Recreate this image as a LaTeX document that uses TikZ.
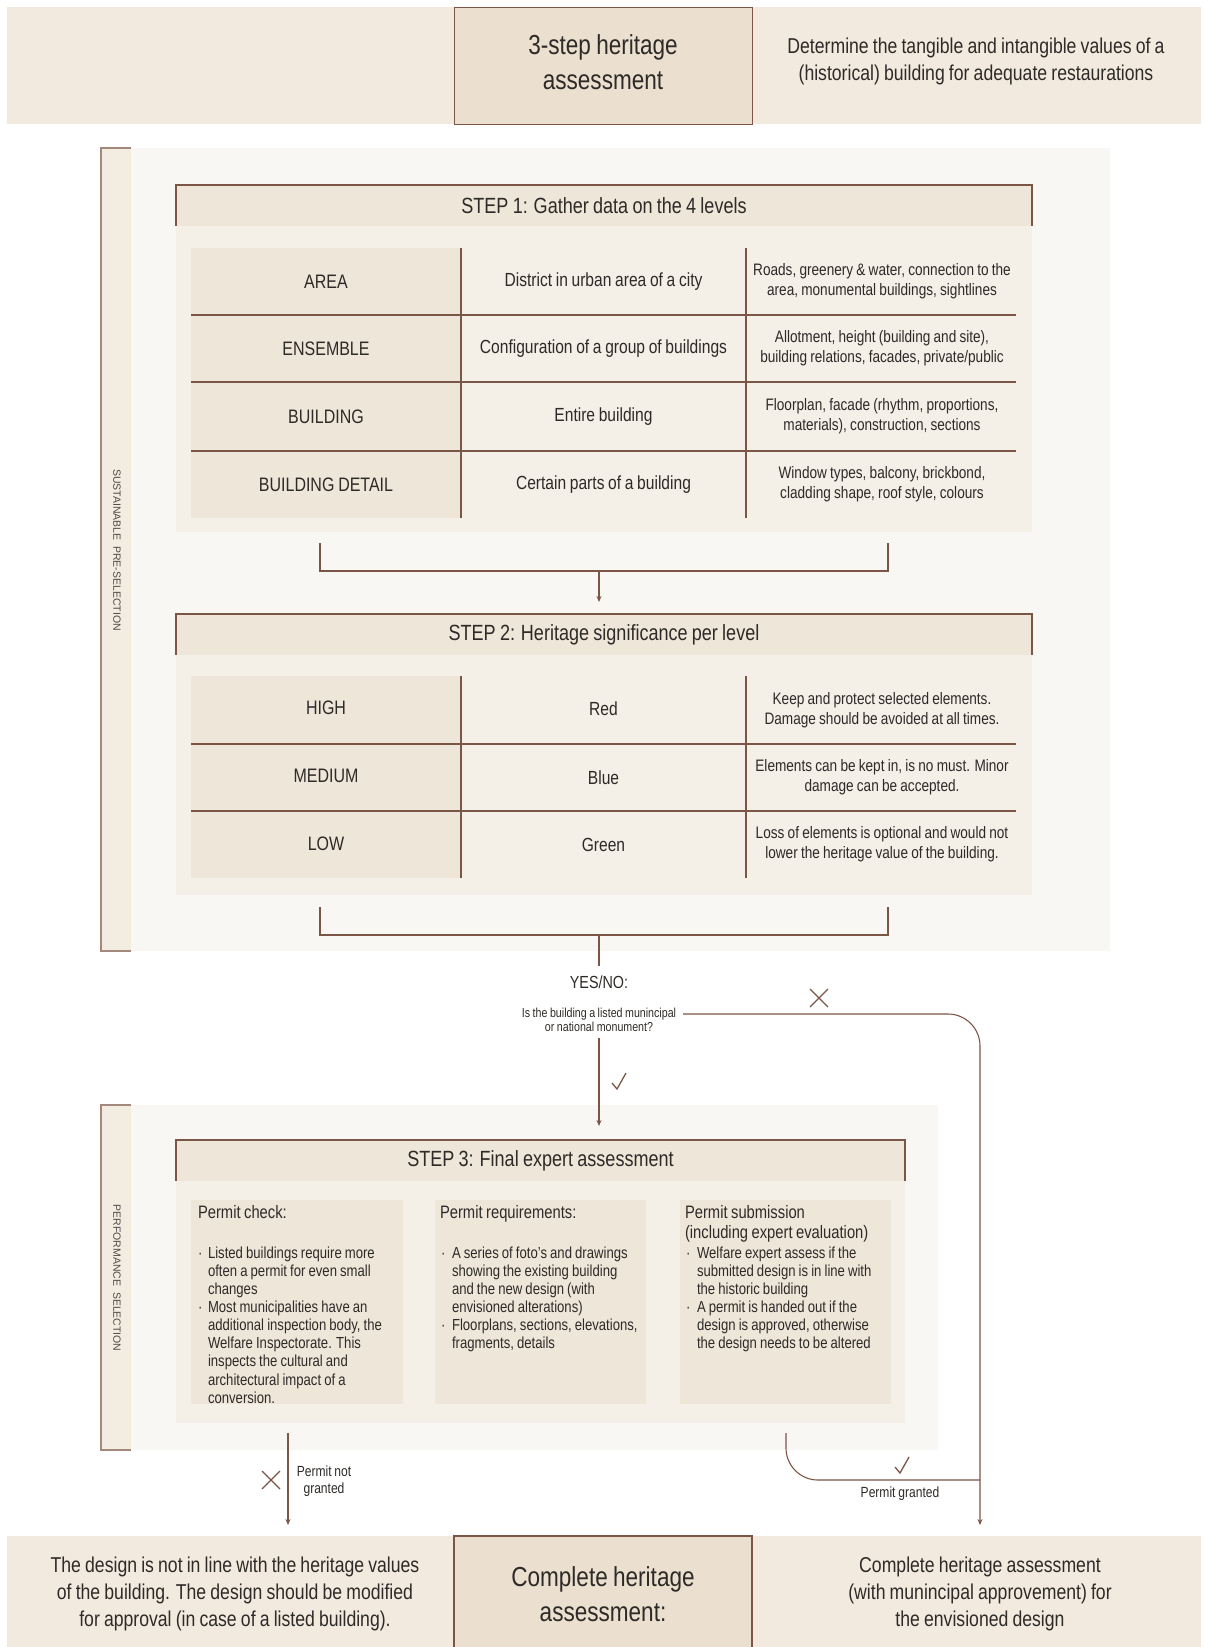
\documentclass[tikz,border=0pt]{standalone}
\usepackage{fontspec}
\setmainfont{Liberation Sans}[FakeStretch=0.82, WordSpace=0.85]
\newfontfamily\capsfont{Liberation Sans}
\usetikzlibrary{arrows.meta,calc}

\definecolor{band}{HTML}{F2EADF}
\definecolor{titlefill}{HTML}{EBE0CF}
\definecolor{panel}{HTML}{F9F7F3}
\definecolor{strip}{HTML}{F3ECE1}
\definecolor{hdrfill}{HTML}{EFE6DA}
\definecolor{bodyfill}{HTML}{F4EFE7}
\definecolor{cellfill}{HTML}{EFE6DA}
\definecolor{rule}{HTML}{7B5545}
\definecolor{ink}{HTML}{2E2A27}

\newcommand{\drawtick}[2]{\draw[glyph] (#1-7,#2+1) -- (#1-2,#2+7) -- (#1+7,#2-9);}
\newcommand{\drawcross}[2]{\draw[glyph] (#1-9,#2-9) -- (#1+9,#2+9) (#1-9,#2+9) -- (#1+9,#2-9);}

\begin{document}
\begin{tikzpicture}[x=1pt,y=-1pt,
  every node/.style={text=ink, inner sep=0pt, outer sep=0pt},
  rl/.style={draw=rule, line width=1.1pt},
  stripline/.style={draw=rule!70, line width=1.6pt},
  arr/.style={rl, -{Stealth[length=6pt,width=5pt]}},
  glyph/.style={draw=rule, line width=1.3pt},
  hdrtxt/.style={font=\fontsize{22}{26}\selectfont},
  lvl/.style={font=\fontsize{19.5}{23}\selectfont},
  desc/.style={font=\fontsize{19}{23}\selectfont},
  note/.style={font=\fontsize{16.6}{19.8}\selectfont, align=center},
  big/.style={font=\fontsize{27.5}{34.5}\selectfont, align=center},
  para/.style={font=\fontsize{21.5}{27}\selectfont, align=center},
  side/.style={font=\capsfont\fontsize{10.5}{12}\selectfont, rotate=-90, text=ink!85},
  boxhead/.style={font=\fontsize{18}{20.5}\selectfont, align=left, anchor=north west},
  bul/.style={font=\fontsize{16}{18.1}\selectfont, align=left, anchor=north west},
  small/.style={font=\fontsize{13}{13.8}\selectfont, align=center},
  hdrbox/.style={fill=hdrfill, minimum height=41pt, hdrtxt}
]
\useasboundingbox (0,0) rectangle (1205,1647);

% ---------- top band ----------
\fill[band] (7,7) rectangle (1201,124);
\draw[rl, line width=1pt, fill=titlefill] (454,7) rectangle (752,124);
\node[big] (title) at (603,62) {3-step heritage\\assessment};
\node[font=\fontsize{21.5}{27}\selectfont, align=center] (intro) at (976,61) {Determine the tangible and intangible values of a\\(historical) building for adequate restaurations};

% ---------- sustainable pre-selection panel ----------
\fill[panel] (131,148) rectangle (1110,951);
\fill[strip] (101,148) rectangle (131,951);
\draw[stripline] (131,148) -- (101,148) -- (101,951) -- (131,951);
\node[side] (sus) at (117,550) {SUSTAINABLE\ \ PRE-SELECTION};

% step 1
\fill[bodyfill] (176,226) rectangle (1032,532);
\node[hdrbox, minimum width=856pt] (s1h) at (604,205.5) {STEP 1: Gather data on the 4 levels};
\draw[rl] (s1h.south west) -- (s1h.north west) -- (s1h.north east) -- (s1h.south east);
\fill[cellfill] (191,248) rectangle (461,518);
\draw[rl] (461,248) -- (461,518) (746,248) -- (746,518);
\foreach \yy in {315,382,451} \draw[rl] (191,\yy) -- (1016,\yy);

\node[lvl] (a1) at (326,281.5) {AREA};
\node[desc] (a2) at (603.5,281.5) {District in urban area of a city};
\node[note] (a3) at (882,281.5) {Roads, greenery \& water, connection to the\\area, monumental buildings, sightlines};
\node[lvl] (e1) at (326,348.5) {ENSEMBLE};
\node[desc] (e2) at (603.5,348.5) {Configuration of a group of buildings};
\node[note] (e3) at (882,348.5) {Allotment, height (building and site),\\building relations, facades, private/public};
\node[lvl] (b1) at (326,416.5) {BUILDING};
\node[desc] (b2) at (603.5,416.5) {Entire building};
\node[note] (b3) at (882,416.5) {Floorplan, facade (rhythm, proportions,\\materials), construction, sections};
\node[lvl] (d1) at (326,484.5) {BUILDING DETAIL};
\node[desc] (d2) at (603.5,484.5) {Certain parts of a building};
\node[note] (d3) at (882,484.5) {Window types, balcony, brickbond,\\cladding shape, roof style, colours};

% bracket step 1 -> step 2
\coordinate (b1l) at (320,543);
\coordinate (b1r) at (888,543);
\coordinate (b1m) at (599,571);
\draw[rl] (b1l) -- (320,571) -- (888,571) -- (b1r);

% step 2
\fill[bodyfill] (176,655) rectangle (1032,895);
\node[hdrbox, minimum width=856pt] (s2h) at (604,634.5) {STEP 2: Heritage significance per level};
\draw[rl] (s2h.south west) -- (s2h.north west) -- (s2h.north east) -- (s2h.south east);
\draw[arr, shorten >=12pt] (b1m) -- (b1m |- s2h.north);
\fill[cellfill] (191,676) rectangle (461,878);
\draw[rl] (461,676) -- (461,878) (746,676) -- (746,878);
\foreach \yy in {744,811} \draw[rl] (191,\yy) -- (1016,\yy);

\node[lvl] (h1) at (326,708) {HIGH};
\node[desc] (h2) at (603.5,709) {Red};
\node[note] (h3) at (882,710) {Keep and protect selected elements.\\Damage should be avoided at all times.};
\node[lvl] (m1) at (326,775.5) {MEDIUM};
\node[desc] (m2) at (603.5,777.5) {Blue};
\node[note] (m3) at (882,777.5) {Elements can be kept in, is no must. Minor\\damage can be accepted.};
\node[lvl] (l1) at (326,843.5) {LOW};
\node[desc] (l2) at (603.5,844.5) {Green};
\node[note] (l3) at (882,844.5) {Loss of elements is optional and would not\\lower the heritage value of the building.};

% bracket step 2 -> decision
\coordinate (b2l) at (320,907);
\coordinate (b2r) at (888,907);
\coordinate (b2m) at (599,935);
\draw[rl] (b2l) -- (320,935) -- (888,935) -- (b2r);

% ---------- decision ----------
\node[font=\fontsize{17.5}{20}\selectfont] (yn) at (599,982) {YES/NO:};
\draw[rl, shorten >=10pt] (b2m) -- (yn.north);
\node[small] (q) at (599,1020) {Is the building a listed munincipal\\or national monument?};
\drawcross{819}{998}
\drawtick{619}{1082}

% ---------- performance selection panel ----------
\fill[panel] (131,1105) rectangle (938,1450);
\fill[strip] (101,1105) rectangle (131,1450);
\draw[stripline] (131,1105) -- (101,1105) -- (101,1450) -- (131,1450);
\node[side] (perf) at (117,1278) {PERFORMANCE\ \ SELECTION};

% step 3
\fill[bodyfill] (176,1181) rectangle (905,1423);
\node[hdrbox, minimum width=729pt] (s3h) at (540.5,1160.5) {STEP 3: Final expert assessment};
\draw[rl] (s3h.south west) -- (s3h.north west) -- (s3h.north east) -- (s3h.south east);
\draw[arr, shorten <=6pt, shorten >=14pt] (q.south -| yn) -- (yn |- s3h.north);

\fill[cellfill] (191,1200) rectangle (403,1404);
\fill[cellfill] (435,1200) rectangle (646,1404);
\fill[cellfill] (680,1200) rectangle (891,1404);

\node[boxhead] (c1h) at (198,1205) {Permit check:};
\node[bul] (c1d1) at (198,1253.5) {·};
\node[bul] (c1t1) at (208,1247) {Listed buildings require more\\often a permit for even small\\changes};
\node[bul] (c1d2) at (198,1307.5) {·};
\node[bul] (c1t2) at (208,1301) {Most municipalities have an\\additional inspection body, the\\Welfare Inspectorate. This\\inspects the cultural and\\architectural impact of a\\conversion.};

\node[boxhead] (c2h) at (440,1205) {Permit requirements:};
\node[bul] (c2d1) at (441,1253.5) {·};
\node[bul] (c2t1) at (452,1247) {A series of foto's and drawings\\showing the existing building\\and the new design (with\\envisioned alterations)};
\node[bul] (c2d2) at (441,1325.5) {·};
\node[bul] (c2t2) at (452,1319) {Floorplans, sections, elevations,\\fragments, details};

\node[boxhead] (c3h) at (685,1205) {Permit submission\\(including expert evaluation)};
\node[bul] (c3d1) at (686,1253.5) {·};
\node[bul] (c3t1) at (697,1247) {Welfare expert assess if the\\submitted design is in line with\\the historic building};
\node[bul] (c3d2) at (686,1307.5) {·};
\node[bul] (c3t2) at (697,1301) {A permit is handed out if the\\design is approved, otherwise\\the design needs to be altered};

% ---------- outcomes ----------
\fill[band] (7,1536) rectangle (1201,1647);
\fill[titlefill] (454,1536) rectangle (752,1647);
\draw[rl] (454,1647) -- (454,1536) -- (752,1536) -- (752,1647);
\node[big] (done) at (603,1594) {Complete heritage\\assessment:};
\node[para] (fail) at (235,1594) {The design is not in line with the heritage values\\of the building. The design should be modified\\for approval (in case of a listed building).};
\node[para] (pass) at (980,1594) {Complete heritage assessment\\(with munincipal approvement) for\\the envisioned design};

% no -> complete assessment
\coordinate (qno) at (683,1014);
\coordinate (noend) at (980,1525);
\draw[arr, rounded corners=32pt] (qno) -- (980,1014) -- (noend);

% permit not granted
\coordinate (ngs) at (288,1433);
\coordinate (nge) at (288,1525);
\draw[arr] (ngs) -- (nge);
\drawcross{271}{1480}
\node[small, font=\fontsize{14.7}{17}\selectfont] (ng) at (324,1481) {Permit not\\granted};

% permit granted
\coordinate (gs) at (786,1433);
\coordinate (gj) at (980,1480);
\draw[rl, rounded corners=32pt] (gs) -- (786,1480) -- (gj);
\drawtick{902}{1466}
\node[font=\fontsize{14.7}{17}\selectfont] (pg) at (900,1494) {Permit granted};
\end{tikzpicture}
\end{document}
